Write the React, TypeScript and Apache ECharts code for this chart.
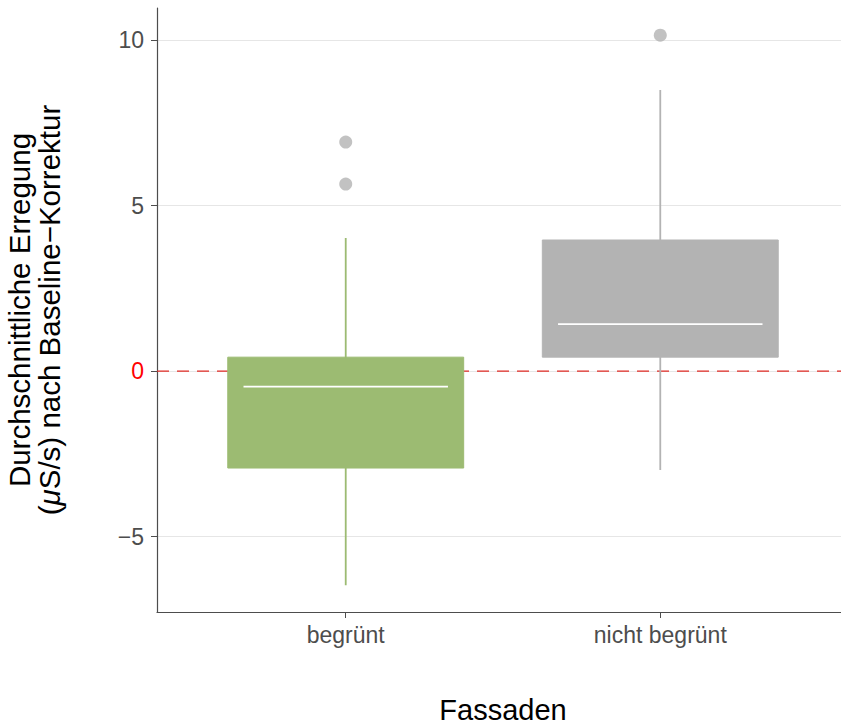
import React, { useEffect, useRef } from "react";
import * as echarts from "echarts";

const categories = ["begrünt", "nicht begrünt"];
const lowerWhisker = [-6.47, -2.99];
const quartile1 = [-2.93, 0.42];
const medians = [-0.47, 1.42];
const quartile3 = [0.42, 3.96];
const upperWhisker = [4.02, 8.49];
const outlierCategory = [0, 0, 1];
const outlierValues = [5.65, 6.92, 10.15];
const yTicks = [-5, 0, 5, 10];
const boxColors = ["#9cbb72", "#b3b3b3"];

export default function App() {
  const ref = useRef<HTMLDivElement>(null);
  useEffect(() => {
    if (!ref.current) return;
    const chart = echarts.init(ref.current, null, { renderer: "svg" });
    const font = "'Liberation Sans', Arial, Helvetica, sans-serif";
    const boxData = categories.map((_, i) => [
      i + 1,
      lowerWhisker[i],
      quartile1[i],
      medians[i],
      quartile3[i],
      upperWhisker[i],
      i,
    ]);
    const option: any = {
      animation: false,
      backgroundColor: "#ffffff",
      grid: {
        left: 157,
        top: 8,
        right: -8,
        bottom: 113,
        containLabel: false,
        outerBoundsMode: "none",
      },
      xAxis: {
        type: "value",
        min: 0.4,
        max: 2.6,
        name: "Fassaden",
        nameLocation: "middle",
        nameGap: 83,
        nameTextStyle: { fontFamily: font, fontSize: 29, color: "#000000" },
        axisLine: { show: true, onZero: false, lineStyle: { color: "#4d4d4d", width: 1.2 } },
        axisTick: {
          show: true,
          customValues: [1, 2],
          length: 6,
          lineStyle: { color: "#4d4d4d", width: 1 },
        },
        axisLabel: {
          customValues: [1, 2],
          margin: 11,
          fontFamily: font,
          fontSize: 23,
          color: "#4d4d4d",
          formatter: (v: number) => categories[Math.round(v) - 1] ?? "",
        },
        splitLine: { show: false },
      },
      yAxis: {
        type: "value",
        min: -7.28,
        max: 10.97,
        name:
          "{a|Durchschnittliche Erregung}\n{a|(}{i|μ}{a|S/s) nach Baseline−Korrektur}",
        nameLocation: "middle",
        nameRotate: 90,
        nameGap: 93,
        nameTextStyle: {
          fontFamily: font,
          fontSize: 29.5,
          color: "#000000",
          lineHeight: 30,
          rich: {
            a: { fontFamily: font, fontSize: 29.5, color: "#000000", lineHeight: 30 },
            i: {
              fontFamily: font,
              fontSize: 29.5,
              fontStyle: "italic",
              color: "#000000",
              lineHeight: 30,
            },
          },
        },
        axisLine: { show: true, onZero: false, lineStyle: { color: "#4d4d4d", width: 1.2 } },
        axisTick: {
          show: true,
          customValues: yTicks,
          length: 6,
          lineStyle: { color: "#4d4d4d", width: 1 },
        },
        axisLabel: {
          customValues: yTicks,
          margin: 13,
          fontFamily: font,
          fontSize: 23,
          color: (v: any) => (Number(v) === 0 ? "#ff0000" : "#4d4d4d"),
          formatter: (v: number) => String(v).replace("-", "−"),
        },
        splitLine: { show: true, lineStyle: { color: "#e6e6e6", width: 1 } },
      },
      series: [
        {
          type: "line",
          z: 1,
          silent: true,
          symbol: "none",
          data: [
            [0.4, 0],
            [2.6, 0],
          ],
          lineStyle: { color: "#e02a24", width: 1.3, type: [12, 8] },
        },
        {
          type: "custom",
          z: 2,
          data: boxData,
          encode: { x: 0, y: [1, 2, 3, 4, 5] },
          renderItem: (params: any, api: any) => {
            const x = api.value(0);
            const idx = api.value(6);
            const color = boxColors[idx];
            const pLow = api.coord([x, api.value(1)]);
            const pQ1 = api.coord([x, api.value(2)]);
            const pMed = api.coord([x, api.value(3)]);
            const pQ3 = api.coord([x, api.value(4)]);
            const pHigh = api.coord([x, api.value(5)]);
            const halfW = api.size([0.75, 0])[0] / 2;
            const halfM = api.size([0.65, 0])[0] / 2;
            return {
              type: "group",
              children: [
                {
                  type: "line",
                  shape: { x1: pLow[0], y1: pLow[1], x2: pHigh[0], y2: pHigh[1] },
                  style: { stroke: color, lineWidth: 1.8 },
                },
                {
                  type: "rect",
                  shape: {
                    x: pQ3[0] - halfW,
                    y: pQ3[1],
                    width: halfW * 2,
                    height: pQ1[1] - pQ3[1],
                  },
                  style: { fill: color, stroke: color, lineWidth: 1 },
                },
                {
                  type: "line",
                  shape: {
                    x1: pMed[0] - halfM,
                    y1: pMed[1],
                    x2: pMed[0] + halfM,
                    y2: pMed[1],
                  },
                  style: { stroke: "#ffffff", lineWidth: 1.8 },
                },
              ],
            };
          },
        },
        {
          type: "scatter",
          z: 3,
          symbol: "circle",
          symbolSize: 13,
          itemStyle: { color: "#b3b3b3" },
          data: outlierValues.map((v, i) => [outlierCategory[i] + 1, v]),
        },
      ],
    };
    chart.setOption(option);
    return () => chart.dispose();
  }, []);
  return (
    <div
      ref={ref}
      style={{ position: "fixed", left: 0, top: 0, width: 841, height: 725 }}
    />
  );
}
